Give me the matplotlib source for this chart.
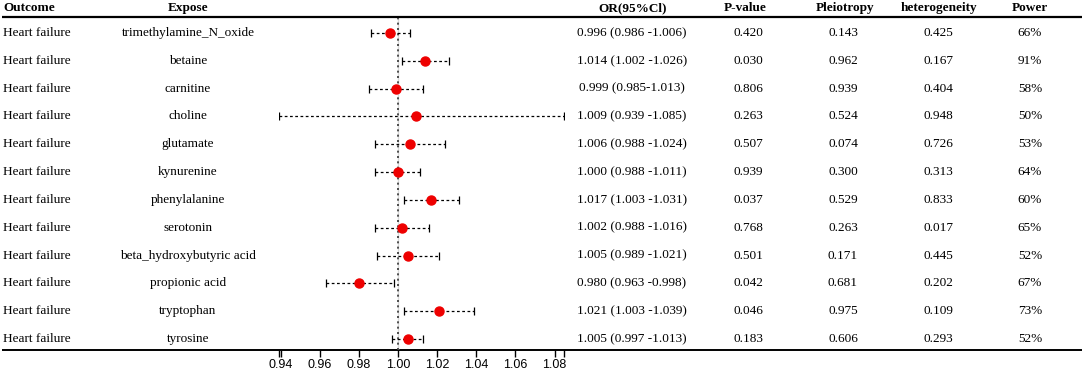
#! /usr/bin/env python3

import numpy as np
import matplotlib
matplotlib.use("Agg")
import matplotlib.pyplot as plt

outcome = ["Heart failure"] * 12
expose = ["trimethylamine_N_oxide", "betaine", "carnitine", "choline", "glutamate",
          "kynurenine", "phenylalanine", "serotonin", "beta_hydroxybutyric acid",
          "propionic acid", "tryptophan", "tyrosine"]
or_val = [0.996, 1.014, 0.999, 1.009, 1.006, 1.000, 1.017, 1.002, 1.005, 0.980, 1.021, 1.005]
ci_lo = [0.986, 1.002, 0.985, 0.939, 0.988, 0.988, 1.003, 0.988, 0.989, 0.963, 1.003, 0.997]
ci_hi = [1.006, 1.026, 1.013, 1.085, 1.024, 1.011, 1.031, 1.016, 1.021, 0.998, 1.039, 1.013]
or_text = ["0.996 (0.986 -1.006)", "1.014 (1.002 -1.026)", "0.999 (0.985-1.013)",
           "1.009 (0.939 -1.085)", "1.006 (0.988 -1.024)", "1.000 (0.988 -1.011)",
           "1.017 (1.003 -1.031)", "1.002 (0.988 -1.016)", "1.005 (0.989 -1.021)",
           "0.980 (0.963 -0.998)", "1.021 (1.003 -1.039)", "1.005 (0.997 -1.013)"]
p_value = ["0.420", "0.030", "0.806", "0.263", "0.507", "0.939",
           "0.037", "0.768", "0.501", "0.042", "0.046", "0.183"]
pleiotropy = ["0.143", "0.962", "0.939", "0.524", "0.074", "0.300",
              "0.529", "0.263", "0.171", "0.681", "0.975", "0.606"]
heterogeneity = ["0.425", "0.167", "0.404", "0.948", "0.726", "0.313",
                 "0.833", "0.017", "0.445", "0.202", "0.109", "0.293"]
power = ["66%", "91%", "58%", "50%", "53%", "64%", "60%", "65%", "52%", "67%", "73%", "52%"]
x_ticks = [0.94, 0.96, 0.98, 1.00, 1.02, 1.04, 1.06, 1.08]

W, H = 1084, 371
y0, dy = 33.0, 27.82


def row(p):
    return (p - y0) / dy


serif = "Liberation Serif"
fs = 9.5

fig = plt.figure(figsize=(W / 100, H / 100), dpi=100)

# table layer in pixel x / row y
ax_t = fig.add_axes([0, 0, 1, 1])
ax_t.set_xlim(0, W)
ax_t.set_ylim(row(H), row(0))
ax_t.axis("off")

headers = [("Outcome", 3, "left"), ("Expose", 188, "center"), ("OR(95%Cl)", 633, "center"),
           ("P-value", 745, "center"), ("Pleiotropy", 845, "center"),
           ("heterogeneity", 939, "center"), ("Power", 1030, "center")]
for txt, x, ha in headers:
    ax_t.text(x, row(8), txt, ha=ha, va="center", family=serif, fontsize=fs, fontweight="bold")

cols = [(outcome, 3, "left"), (expose, 188, "center"), (or_text, 632, "center"),
        (p_value, 748, "center"), (pleiotropy, 843, "center"),
        (heterogeneity, 938, "center"), (power, 1030, "center")]
for vals, x, ha in cols:
    for i, v in enumerate(vals):
        ax_t.text(x, i, v, ha=ha, va="center", family=serif, fontsize=fs)

ax_t.plot([2, 1082], [row(17.5), row(17.5)], color="k", lw=1.6, solid_capstyle="butt")
ax_t.plot([2, 1082], [row(349.5), row(349.5)], color="k", lw=1.4, solid_capstyle="butt")

# forest plot
left, right = 278.7, 564.3
ax = fig.add_axes([left / W, 1 - 349.5 / H, (right - left) / W, (349.5 - 17.5) / H])
ax.set_xlim(0.939, 1.085)
ax.set_ylim(row(349.5), row(17.5))
ax.patch.set_visible(False)
for s in ax.spines.values():
    s.set_visible(False)

ax.axvline(1.0, color="0.85", lw=1.0, zorder=1)
ax.axvline(1.0, color="0.2", lw=1.2, linestyle=(0, (1.2, 2.0)), zorder=2)

y = np.arange(len(or_val))
or_arr = np.array(or_val)
err = [or_arr - np.array(ci_lo), np.array(ci_hi) - or_arr]
eb = ax.errorbar(or_arr, y, xerr=err, fmt="none", ecolor="k", elinewidth=0.9,
                 capsize=3.0, capthick=0.9, zorder=3)
eb[2][0].set_linestyle((0, (2.2, 2.0)))
ax.plot(or_arr, y, "o", color="#ee0000", markersize=6.5, zorder=4)

all_ticks = [0.939] + x_ticks + [1.085]
ax.set_xticks(all_ticks)
ax.set_xticklabels([""] + ["%.2f" % t for t in x_ticks] + [""],
                   family="Liberation Sans", fontsize=9)
ax.tick_params(axis="x", length=5, width=1, pad=2, color="k")
ax.set_yticks([])

fig.savefig("out.png", dpi=100)
